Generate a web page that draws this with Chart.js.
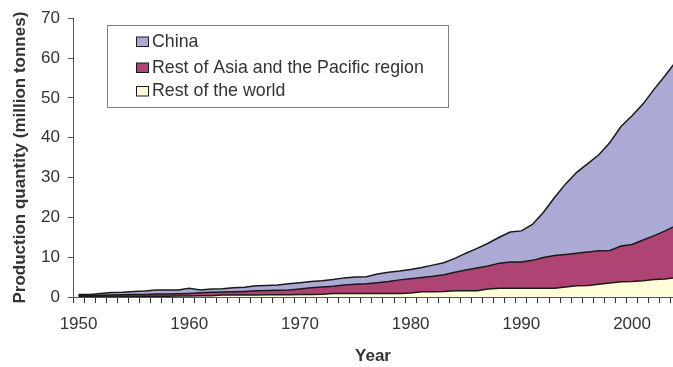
<!DOCTYPE html>
<html>
<head>
<meta charset="utf-8">
<script src="https://cdn.jsdelivr.net/npm/chart.js@4.4.1/dist/chart.umd.min.js"></script>
<style>
  html, body { margin: 0; padding: 0; background: #fff; }
  #wrap { width: 673px; height: 367px; }
</style>
</head>
<body>
<div id="wrap"><canvas id="c" width="673" height="367"></canvas></div>
<script>
// production by region, million tonnes
const years = [];
for (let y = 1950; y <= 2004; y++) years.push(y);

const restOfWorld = [
  0.2, 0.2, 0.2, 0.2, 0.2, 0.2, 0.2, 0.2, 0.2, 0.25,
  0.25, 0.3, 0.3, 0.5, 0.5, 0.5, 0.5, 0.55, 0.55, 0.55,
  0.6, 0.6, 0.7, 0.9, 0.9, 0.9, 0.9, 0.9, 0.9, 0.9,
  1.0, 1.3, 1.3, 1.4, 1.6, 1.6, 1.6, 2.0, 2.2, 2.2,
  2.2, 2.2, 2.2, 2.2, 2.5, 2.8, 2.9, 3.2, 3.5, 3.8,
  3.9, 4.1, 4.4, 4.5, 4.9
];
const restOfAsia = [
  0.2, 0.2, 0.25, 0.3, 0.35, 0.4, 0.45, 0.55, 0.55, 0.55,
  0.65, 0.75, 0.9, 0.75, 0.8, 0.9, 1.05, 1.1, 1.15, 1.2,
  1.4, 1.7, 1.8, 1.8, 2.1, 2.3, 2.4, 2.7, 3.0, 3.4,
  3.6, 3.6, 3.9, 4.2, 4.6, 5.2, 5.7, 5.8, 6.3, 6.6,
  6.6, 7.0, 7.7, 8.2, 8.2, 8.2, 8.4, 8.4, 8.2, 9.0,
  9.3, 10.2, 11.0, 12.1, 13.1
];
const china = [
  0.2, 0.25, 0.45, 0.6, 0.65, 0.8, 0.85, 1.0, 1.0, 0.95,
  1.3, 0.7, 0.8, 0.85, 1.0, 1.05, 1.25, 1.25, 1.3, 1.55,
  1.6, 1.6, 1.6, 1.7, 1.8, 1.8, 1.8, 2.2, 2.3, 2.2,
  2.3, 2.5, 2.8, 3.0, 3.5, 4.2, 4.9, 5.7, 6.5, 7.5,
  7.8, 9.0, 11.4, 14.6, 17.7, 20.3, 22.2, 24.1, 27.1, 30.0,
  32.3, 34.2, 36.8, 39.0, 41.3
];
const yTicks = [0, 10, 20, 30, 40, 50, 60, 70];
const xLabelYears = [1950, 1960, 1970, 1980, 1990, 2000];

const colChina = '#aaaad4';
const colAsia = '#ad4473';
const colWorld = '#fffcd8';
const txt = '#333333';
const font = 'Liberation Sans, Arial, sans-serif';

const toXY = arr => arr.map((v, i) => ({ x: years[i], y: v }));

const ds = (label, data, color, fill) => ({
  label, data: toXY(data), backgroundColor: color, borderColor: '#1a1a1a',
  borderWidth: 1.5, pointRadius: 0, tension: 0, fill, clip: 0
});

// legend box drawn inside the plot, like the original
const boxLegend = {
  id: 'boxLegend',
  afterDraw(chart) {
    const ctx = chart.ctx;
    ctx.save();
    ctx.fillStyle = '#fff';
    ctx.fillRect(107.5, 25.5, 341, 82);
    ctx.strokeStyle = '#808080';
    ctx.lineWidth = 1;
    ctx.strokeRect(107.5, 25.5, 341, 82);
    const baselines = [46.5, 72.5, 96];
    const order = [2, 1, 0];
    ctx.font = '17.8px ' + font;
    ctx.textBaseline = 'alphabetic';
    order.forEach((di, k) => {
      const d = chart.data.datasets[di];
      const b = baselines[k];
      ctx.fillStyle = d.backgroundColor;
      ctx.fillRect(136.5, b - 9.5, 12, 9.5);
      ctx.strokeStyle = '#1a1a1a';
      ctx.strokeRect(136.5, b - 9.5, 12, 9.5);
      ctx.fillStyle = txt;
      ctx.fillText(d.label, 152, b);
    });
    ctx.restore();
  }
};

new Chart(document.getElementById('c'), {
  type: 'line',
  data: {
    datasets: [
      ds('Rest of the world', restOfWorld, colWorld, 'origin'),
      ds('Rest of Asia and the Pacific region', restOfAsia, colAsia, '-1'),
      ds('China', china, colChina, '-1')
    ]
  },
  options: {
    responsive: false,
    animation: false,
    layout: { padding: { top: 17, right: 0, left: 0, bottom: 0 } },
    plugins: { legend: { display: false }, tooltip: { enabled: false } },
    scales: {
      x: {
        type: 'linear',
        min: 1949.5,
        max: 2003.7,
        afterFit: s => { s.height = 70; s.paddingRight = 0; s.paddingLeft = 0; },
        afterBuildTicks: s => {
          const t = [];
          for (let y = 1949.5; y <= 2003.5; y += 1) t.push({ value: y });
          xLabelYears.forEach(v => t.push({ value: v }));
          t.sort((a, b) => a.value - b.value);
          s.ticks = t;
        },
        grid: {
          drawOnChartArea: false,
          tickLength: 6,
          color: c => (c.tick && Number.isInteger(c.tick.value)) ? 'rgba(0,0,0,0)' : '#333',
          lineWidth: 1
        },
        border: { color: '#555', width: 1 },
        ticks: {
          autoSkip: false, maxRotation: 0, padding: 11,
          color: txt, font: { family: font, size: 17 },
          callback: v => xLabelYears.includes(v) ? String(v) : ''
        },
        title: {
          display: true, text: 'Year', color: txt,
          font: { family: font, size: 17, weight: 'bold' },
          padding: { top: 0, bottom: 0 }
        }
      },
      y: {
        stacked: true,
        min: 0, max: 70,
        afterFit: s => { s.width = 73; },
        afterBuildTicks: s => { s.ticks = yTicks.map(v => ({ value: v })); },
        grid: { drawOnChartArea: false, tickLength: 5, color: '#555' },
        border: { color: '#555', width: 1 },
        ticks: { padding: 8, color: txt, font: { family: font, size: 17 } },
        title: {
          display: true, text: 'Production quantity (million tonnes)', color: txt,
          font: { family: font, size: 17, weight: 'bold' },
          padding: { top: 10, bottom: 0 }
        }
      }
    }
  },
  plugins: [boxLegend]
});
</script>
</body>
</html>
